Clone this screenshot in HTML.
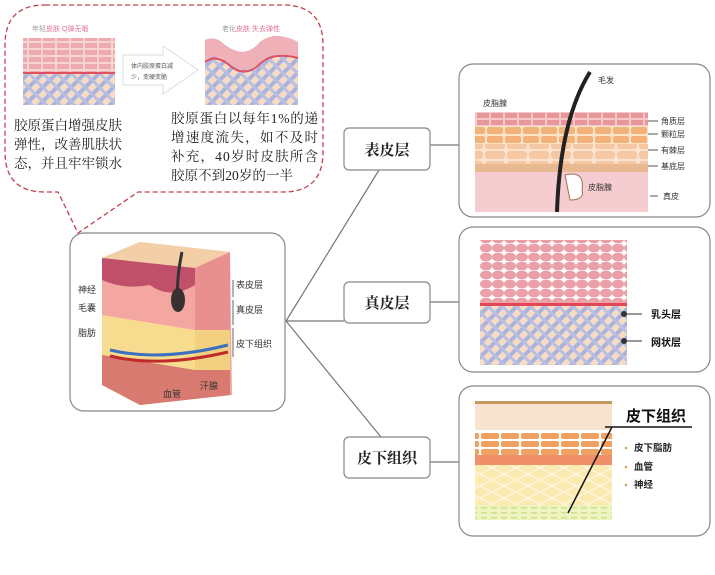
<!DOCTYPE html>
<html><head><meta charset="utf-8"><style>
body{margin:0;width:715px;height:575px;background:#fff;overflow:hidden;font-family:"Liberation Serif","Noto Serif CJK SC",serif;}
svg{position:absolute;left:0;top:0}
</style></head><body>
<svg width="715" height="575" viewBox="0 0 715 575">
<defs>
<pattern id="mesh" width="10" height="10" patternUnits="userSpaceOnUse" patternTransform="rotate(45)">
<rect width="10" height="10" fill="#f6dcc4"/><rect width="4" height="10" fill="#a9b3de"/><rect width="10" height="3" fill="#b8bfe3"/></pattern>
<pattern id="brick" width="14" height="7" patternUnits="userSpaceOnUse"><rect width="14" height="7" fill="#f5c9c9"/><rect x="1" y="1" width="12" height="5" fill="#e8969a"/></pattern>
<pattern id="cell" width="18" height="9" patternUnits="userSpaceOnUse"><rect width="18" height="9" fill="#fbe3c8"/><rect x="1" y="1" width="16" height="7" rx="2" fill="#f3b27a"/></pattern>
<pattern id="cell2" width="22" height="10" patternUnits="userSpaceOnUse"><rect width="22" height="10" fill="#fbe3d0"/><rect x="1" y="1" width="20" height="8" rx="3" fill="#f5c8a3"/></pattern>
<pattern id="scale" width="12" height="9" patternUnits="userSpaceOnUse"><rect width="12" height="9" fill="#fff"/><ellipse cx="6" cy="5" rx="6" ry="4.5" fill="#e9a0a8"/></pattern>
<pattern id="ocell" width="20" height="8" patternUnits="userSpaceOnUse"><rect width="20" height="8" fill="#fff"/><rect x="1" y="1" width="18" height="6" rx="2" fill="#f0a060"/></pattern>
<pattern id="yel" width="24" height="12" patternUnits="userSpaceOnUse"><rect width="24" height="12" fill="#fbeab0"/><path d="M0 6 L12 0 L24 6 L12 12Z" fill="none" stroke="#fff6dc" stroke-width="1.5"/></pattern>
<pattern id="grn" width="10" height="5" patternUnits="userSpaceOnUse"><rect width="10" height="5" fill="#eef3c0"/><rect x="1" y="2" width="6" height="1.5" fill="#cfe08a"/></pattern>
</defs>

<path d="M45 5 H283 Q323 5 323 45 V152 Q323 192 283 192 H138 L78 233 L58 192 H45 Q5 192 5 152 V45 Q5 5 45 5Z" fill="#fff" stroke="#c0404a" stroke-width="1.3" stroke-dasharray="5,3"/>
<text x="32" y="31" font-size="7" fill="#999" font-family="Liberation Sans,Noto Sans CJK SC,sans-serif">年轻<tspan fill="#e07090">皮肤 Q弹无暇</tspan></text>
<rect x="23" y="38" width="92" height="34" fill="url(#brick)" opacity=".8"/>
<rect x="23" y="72" width="92" height="2" fill="#e05060"/>
<rect x="23" y="74" width="92" height="31" fill="url(#mesh)"/>
<path d="M123 55 H163 V46 L198 70 L163 94 V85 H123Z" fill="#fff" stroke="#ddd"/>
<text x="131" y="68" font-size="6" fill="#555" font-family="Liberation Sans,Noto Sans CJK SC,sans-serif">体内胶原蛋白减</text>
<text x="131" y="79" font-size="6" fill="#555" font-family="Liberation Sans,Noto Sans CJK SC,sans-serif">少，变硬变脆</text>
<text x="222" y="31" font-size="7" fill="#999" font-family="Liberation Sans,Noto Sans CJK SC,sans-serif">老化<tspan fill="#e07090">皮肤 失去弹性</tspan></text>
<path d="M205 40 Q215 35 225 45 Q245 60 260 42 Q275 30 298 42 V105 H205Z" fill="url(#mesh)"/>
<path d="M205 40 Q215 35 225 45 Q245 60 260 42 Q275 30 298 42 V58 Q275 50 262 60 Q245 78 228 62 Q215 52 205 60Z" fill="#f0b0b8"/>
<path d="M205 62 Q215 54 228 64 Q245 80 262 62 Q275 52 298 58" fill="none" stroke="#e05060" stroke-width="2"/>
<g font-size="13.5" fill="#222">
<text x="14" y="130" textLength="108">胶原蛋白增强皮肤</text>
<text x="14" y="149" textLength="108">弹性，改善肌肤状</text>
<text x="14" y="168" textLength="108">态，并且牢牢锁水</text>
<text x="171" y="123" textLength="147">胶原蛋白以每年1%的递</text>
<text x="171" y="142" textLength="147">增速度流失，如不及时</text>
<text x="171" y="161" textLength="147">补充，40岁时皮肤所含</text>
<text x="171" y="180" textLength="122">胶原不到20岁的一半</text>
</g>

<g stroke="#777" stroke-width="1.2" fill="none">
<path d="M286 321 L379 170 M286 321 H344 M286 321 L381 437"/>
<path d="M430 145 H460 M430 302 H460 M430 462 H460"/>
</g>

<rect x="70" y="233" width="215" height="178" rx="14" fill="#fff" stroke="#888" stroke-width="1.2"/>
<path d="M102 258 L140 242 L230 252 L232 395 L140 405 L102 385Z" fill="#f3a7a0"/>
<path d="M102 258 L140 242 L230 252 L195 268Z" fill="#f3cfa8"/>
<path d="M102 258 L195 268 L195 285 Q170 300 150 285 Q125 290 102 280Z" fill="#c0506a"/>
<path d="M102 315 L195 330 L195 370 L102 355Z" fill="#f7dc90"/>
<path d="M195 268 L230 252 L230 330 L195 330Z" fill="#e89090"/>
<path d="M195 330 L230 330 L230 370 L195 370Z" fill="#f3cf80"/>
<path d="M102 355 L195 370 L230 370 L230 395 L140 405 L102 385Z" fill="#d87a70"/>
<path d="M110 350 Q160 362 228 345" stroke="#3a70c0" stroke-width="3" fill="none"/>
<path d="M110 356 Q160 368 228 352" stroke="#c02a2a" stroke-width="3" fill="none"/>
<path d="M182 252 Q176 280 178 300" stroke="#333" stroke-width="3" fill="none"/>
<ellipse cx="178" cy="300" rx="7" ry="12" fill="#3a3030"/>
<g font-size="9" fill="#333" font-family="Liberation Sans,Noto Sans CJK SC,sans-serif">
<text x="78" y="293">神经</text><text x="78" y="311">毛囊</text><text x="78" y="336">脂肪</text>
<text x="236" y="288">表皮层</text><text x="236" y="313">真皮层</text><text x="236" y="347">皮下组织</text>
<text x="163" y="397">血管</text><text x="200" y="389">汗腺</text>
</g>
<path d="M233 280 V297 M233 300 V325 M233 328 V357" stroke="#666" fill="none"/>

<g fill="#fff" stroke="#888" stroke-width="1.2">
<rect x="344" y="128" width="86" height="42" rx="5"/>
<rect x="344" y="282" width="86" height="41" rx="5"/>
<rect x="344" y="437" width="86" height="41" rx="5"/>
</g>
<g font-size="15" font-weight="bold" fill="#222" text-anchor="middle">
<text x="387" y="155">表皮层</text><text x="387" y="308">真皮层</text><text x="387" y="463">皮下组织</text>
</g>

<rect x="459" y="64" width="251" height="153" rx="14" fill="#fff" stroke="#888" stroke-width="1.2"/>
<rect x="475" y="112" width="173" height="14" fill="url(#brick)"/>
<rect x="475" y="126" width="173" height="18" fill="url(#cell)"/>
<rect x="475" y="144" width="173" height="20" fill="url(#cell2)"/>
<rect x="475" y="164" width="173" height="8" fill="#e8b890"/>
<rect x="475" y="172" width="173" height="40" fill="#f5cdd0"/>
<path d="M590 72 Q560 120 557 212" stroke="#222" stroke-width="4" fill="none"/>
<path d="M565 175 Q585 170 582 190 Q585 200 570 200Z" fill="#fff" stroke="#a07050"/>
<path d="M648 121 H658 M648 134 H658 M648 150 H658 M648 166 H658 M650 196 H658" stroke="#555"/>
<g font-size="8" fill="#333" font-family="Liberation Sans,Noto Sans CJK SC,sans-serif">
<text x="598" y="83">毛发</text><text x="483" y="106">皮脂腺</text>
<text x="661" y="124">角质层</text><text x="661" y="137">颗粒层</text><text x="661" y="153">有棘层</text><text x="661" y="169">基底层</text>
<text x="588" y="190">皮脂腺</text><text x="663" y="199">真皮</text>
</g>

<rect x="459" y="227" width="251" height="145" rx="14" fill="#fff" stroke="#888" stroke-width="1.2"/>
<rect x="480" y="240" width="147" height="64" fill="url(#scale)"/>
<rect x="480" y="303" width="147" height="3" fill="#e04858"/>
<rect x="480" y="306" width="147" height="59" fill="url(#mesh)"/>
<circle cx="624" cy="314" r="3" fill="#333"/><circle cx="624" cy="341" r="3" fill="#333"/>
<path d="M624 314 H642 M624 341 H642" stroke="#333"/>
<g font-size="10" font-weight="bold" fill="#111" font-family="Liberation Sans,Noto Sans CJK SC,sans-serif">
<text x="651" y="318">乳头层</text><text x="651" y="346">网状层</text></g>

<rect x="459" y="386" width="251" height="150" rx="14" fill="#fff" stroke="#888" stroke-width="1.2"/>
<rect x="475" y="401" width="137" height="3" fill="#c89860"/>
<rect x="475" y="404" width="137" height="26" fill="#f6e3d0"/>
<rect x="475" y="431" width="137" height="24" fill="url(#ocell)"/>
<rect x="475" y="455" width="137" height="10" fill="#f0906a"/>
<rect x="475" y="465" width="137" height="40" fill="url(#yel)"/>
<rect x="475" y="505" width="137" height="15" fill="url(#grn)"/>
<path d="M605 427 H692 M612 427 L568 513" stroke="#111" stroke-width="1.5" fill="none"/>
<text x="626" y="421" font-size="15" font-weight="bold" fill="#111" font-family="Liberation Sans,Noto Sans CJK SC,sans-serif">皮下组织</text>
<g font-size="9.5" font-weight="bold" fill="#222" font-family="Liberation Sans,Noto Sans CJK SC,sans-serif">
<text x="634" y="451">皮下脂肪</text><text x="634" y="470">血管</text><text x="634" y="488">神经</text></g>
<g fill="#d8a060"><circle cx="626" cy="448" r="1.3"/><circle cx="626" cy="467" r="1.3"/><circle cx="626" cy="485" r="1.3"/></g>
</svg>
</body></html>
